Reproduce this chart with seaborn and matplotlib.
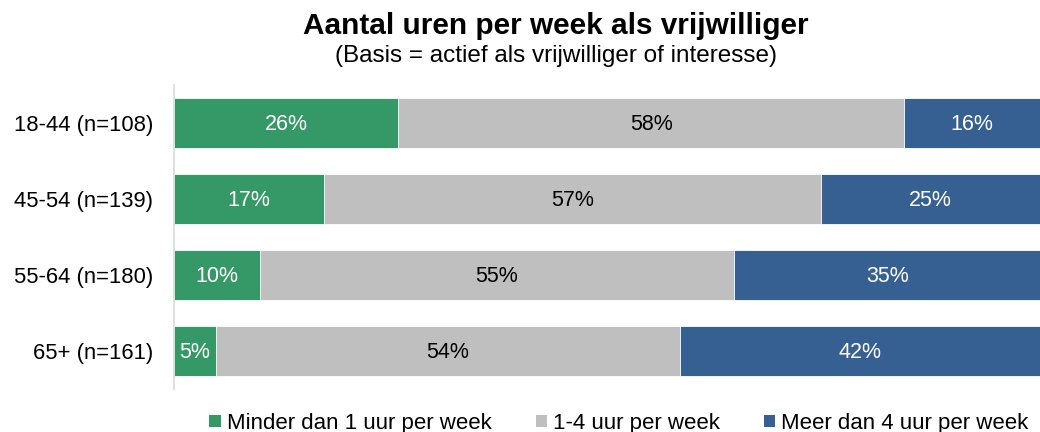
import matplotlib
matplotlib.use("Agg")
import matplotlib.pyplot as plt
import matplotlib.patches as mpatches
import numpy as np
import pandas as pd
import seaborn as sns

# Age groups and shares (%) per answer category
groups = ["18-44 (n=108)", "45-54 (n=139)", "55-64 (n=180)", "65+ (n=161)"]
series_names = ["Minder dan 1 uur per week", "1-4 uur per week", "Meer dan 4 uur per week"]
minder_dan_1 = [25.9, 17.3, 9.9, 4.8]
een_tot_vier = [58.4, 57.4, 54.8, 53.6]
meer_dan_4 = [15.7, 25.3, 35.3, 41.6]

colors = ["#349966", "#BFBFBF", "#376092"]
label_colors = ["white", "black", "white"]

sns.set_theme(style="white")
plt.rcParams["font.family"] = ["Liberation Sans", "DejaVu Sans"]

df = pd.DataFrame({
    "groep": groups,
    series_names[0]: minder_dan_1,
    series_names[1]: een_tot_vier,
    series_names[2]: meer_dan_4,
})
vals = df[series_names].to_numpy()
cum = np.cumsum(vals, axis=1)
for i, name in enumerate(series_names):
    df["cum_" + str(i)] = cum[:, i]

fig = plt.figure(figsize=(10.4, 4.32), dpi=100)
ax = fig.add_axes([174 / 1040, 1 - 389 / 432, 866 / 1040, 304 / 432])

# Stacked bars: draw cumulative totals from the outermost segment inwards
for i in reversed(range(len(series_names))):
    sns.barplot(data=df, x="cum_" + str(i), y="groep", orient="h",
                color=colors[i], saturation=1, width=0.66,
                edgecolor="white", linewidth=0.6, ax=ax)

# Segment labels
for r in range(len(groups)):
    for i in range(len(series_names)):
        v = vals[r, i]
        x = cum[r, i] - v / 2
        ax.text(x, r + 0.02, f"{v:.0f}%", ha="center", va="center",
                fontsize=15.5, color=label_colors[i])

ax.set_xlim(0, 100)
ax.set_ylim(3.5, -0.5)
ax.set_xlabel("")
ax.set_ylabel("")
ax.set_xticks([])
ax.tick_params(axis="y", length=0, pad=15, labelsize=15.8, labelcolor="black")
for s in ["top", "right", "bottom"]:
    ax.spines[s].set_visible(False)
ax.spines["left"].set_color("#D9D9D9")
ax.spines["left"].set_linewidth(1.2)

fig.text(556 / 1040, 1 - 34 / 432, "Aantal uren per week als vrijwilliger",
         ha="center", va="baseline", fontsize=21.4, fontweight="bold", color="black")
fig.text(556 / 1040, 1 - 62 / 432, "(Basis = actief als vrijwilliger of interesse)",
         ha="center", va="baseline", fontsize=17.5, color="black")

handles = [mpatches.Patch(facecolor=c, edgecolor="none") for c in colors]
fig.legend(handles, series_names, loc="center", bbox_to_anchor=(619 / 1040, 1 - 423 / 432),
           ncol=3, frameon=False, fontsize=16, labelcolor="black",
           handlelength=0.5, handleheight=0.45,
           handletextpad=0.27, columnspacing=2.0, borderpad=0, borderaxespad=0)

fig.savefig("out.png", dpi=100)
